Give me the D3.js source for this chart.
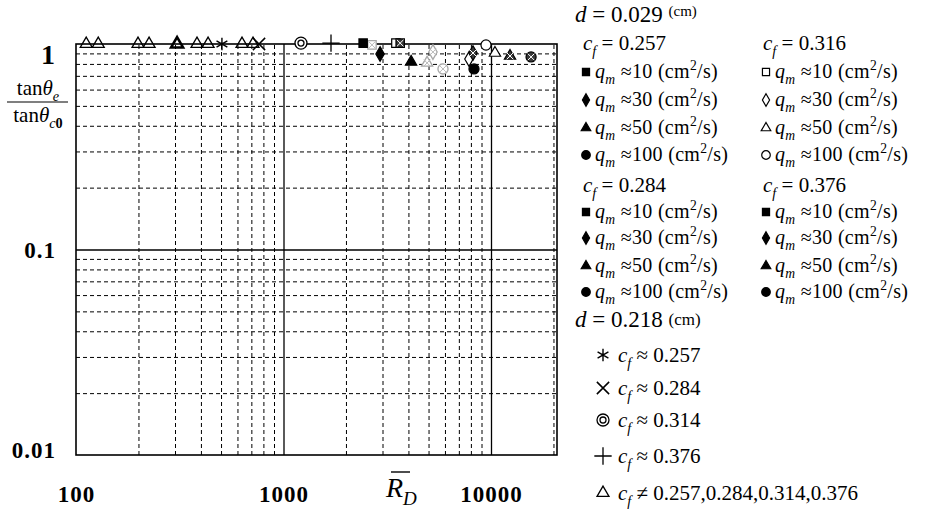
<!DOCTYPE html>
<html>
<head>
<meta charset="utf-8">
<script src="https://cdn.jsdelivr.net/npm/d3@7"></script>
<style>
  body { margin: 0; background: #fff; }
  text { font-family: "Liberation Serif", "DejaVu Serif", serif; fill: #000; }
</style>
</head>
<body>
<svg id="svg" width="933" height="510"></svg>
<script>
// axis ticks
const xLabels = [100, 1000, 10000];
const yLabels = [0.01, 0.1, 1];
const xMajor = [1000, 10000];
const yMajor = [0.1];
const xMinor = [200, 300, 400, 500, 600, 700, 800, 900, 2000, 3000, 4000, 5000, 6000, 7000, 8000, 9000, 20000];
const yMinor = [0.02, 0.03, 0.04, 0.05, 0.06, 0.07, 0.08, 0.09, 0.2, 0.3, 0.4, 0.5, 0.6, 0.7, 0.8, 0.9];

// d = 0.218 cm
const triRd = [112, 128, 199, 225, 307, 383, 433, 631, 713];
const triRatio = [1.0, 1.0, 1.0, 1.0, 1.0, 1.0, 1.0, 1.0, 1.0];
const astRd = [505];
const astRatio = [1.0];
const timesRd = [762];
const timesRatio = [1.0];
const dblRd = [1214];
const dblRatio = [1.01];
const plusRd = [1694];
const plusRatio = [1.01];

// d = 0.029 cm, order q = 10, 30, 50, 100
const qShapes = ["sq", "di", "tr", "ci"];
const cf257Rd = [2420, 2920, 4120, 8280];
const cf257Ratio = [1.01, 0.894, 0.818, 0.756];
const cf284Rd = [2670, 5250, 4920, 5870];
const cf284Ratio = [0.99, 0.914, 0.809, 0.756];
const cf316Rd = [3480, 7830, 10450, 9460];
const cf316Ratio = [1.01, 0.846, 0.904, 0.989];
const cf376Rd = [3650, 8190, 12350, 15600];
const cf376Ratio = [1.01, 0.904, 0.874, 0.865];

const svg = d3.select("#svg");
const x = d3.scaleLog().domain([100, 20800]).range([76, 557]);
const y = d3.scaleLog().domain([0.01, 1]).range([455, 44]);
const plotH = y(0.01) - y(1);
const plotW = x(20800) - x(100);

const grid = svg.append("g");
// dashed minor grid
grid.append("g")
  .attr("transform", `translate(0,${y(0.01)})`)
  .call(d3.axisBottom(x).tickValues(xMinor).tickSize(-plotH).tickFormat(""))
  .call(g => g.select(".domain").remove())
  .call(g => g.selectAll("line").attr("stroke", "#000").attr("stroke-dasharray", "4,3"));
grid.append("g")
  .attr("transform", `translate(${x(100)},0)`)
  .call(d3.axisLeft(y).tickValues(yMinor).tickSize(-plotW).tickFormat(""))
  .call(g => g.select(".domain").remove())
  .call(g => g.selectAll("line").attr("stroke", "#000").attr("stroke-dasharray", "4,3"));
// solid decade lines
grid.append("g")
  .attr("transform", `translate(0,${y(0.01)})`)
  .call(d3.axisBottom(x).tickValues(xMajor).tickSize(-plotH).tickFormat(""))
  .call(g => g.select(".domain").remove())
  .call(g => g.selectAll("line").attr("stroke", "#000").attr("stroke-width", 1.3));
grid.append("g")
  .attr("transform", `translate(${x(100)},0)`)
  .call(d3.axisLeft(y).tickValues(yMajor).tickSize(-plotW).tickFormat(""))
  .call(g => g.select(".domain").remove())
  .call(g => g.selectAll("line").attr("stroke", "#000").attr("stroke-width", 1.3));
grid.append("rect")
  .attr("x", x(100)).attr("y", y(1))
  .attr("width", plotW).attr("height", plotH)
  .attr("fill", "none").attr("stroke", "#000").attr("stroke-width", 1.6);

// tick labels
svg.append("g")
  .attr("transform", `translate(0,502)`)
  .call(d3.axisBottom(x).tickValues(xLabels).tickSize(0).tickFormat(d3.format("d")))
  .call(g => g.select(".domain").remove())
  .call(g => g.selectAll("text").attr("y", 0).attr("dy", 0)
    .attr("font-size", 23).attr("font-weight", "bold").attr("letter-spacing", 1)
    .attr("font-family", "Liberation Serif"));
const yLab = svg.append("g").attr("transform", "translate(56,0)")
  .call(d3.axisLeft(y).tickValues(yLabels).tickSize(0).tickFormat(d => d === 1 ? "1" : d3.format(".2~f")(d)))
  .call(g => g.select(".domain").remove())
  .call(g => g.selectAll("text").attr("x", 0).attr("dy", "0.36em")
    .attr("font-size", 23).attr("font-weight", "bold").attr("letter-spacing", 1)
    .attr("font-family", "Liberation Serif"));
yLab.selectAll(".tick").filter(d => d === 1).select("text").attr("font-size", 28).attr("dy", "0.68em");
yLab.selectAll(".tick").filter(d => d === 0.01).select("text").attr("dy", "0.1em");

// rich text helper
function richText(g, px, py, parts, size, anchor) {
  const t = g.append("text").attr("x", px).attr("y", py).attr("font-size", size);
  if (anchor) t.attr("text-anchor", anchor);
  let shift = 0;
  parts.forEach(p => {
    const target = p.sub ? size * 0.3 : p.sup ? -size * 0.38 : p.raise ? -p.raise : 0;
    const ts = t.append("tspan").text(p.t).attr("dy", target - shift);
    shift = target;
    if (p.sub || p.sup) ts.attr("font-size", size * 0.68);
    if (p.size) ts.attr("font-size", p.size);
    if (p.i) ts.attr("font-style", "italic");
    if (p.b) ts.attr("font-weight", "bold");
  });
  return t;
}

// axis titles
richText(svg, 38, 95, [{ t: "tan" }, { t: "θ", i: true }, { t: "e", i: true, sub: true }], 21, "middle");
svg.append("line").attr("x1", 7).attr("x2", 68).attr("y1", 102).attr("y2", 102).attr("stroke", "#000").attr("stroke-width", 1.2);
richText(svg, 38, 122, [{ t: "tan" }, { t: "θ", i: true }, { t: "c", i: true, sub: true }, { t: "0", sub: true, b: true }], 21, "middle");
richText(svg, 386, 497, [{ t: "R", i: true }, { t: "D", i: true, sub: true }], 28);
svg.append("line").attr("x1", 391).attr("x2", 410).attr("y1", 472).attr("y2", 472).attr("stroke", "#000").attr("stroke-width", 1.4);

// markers
function marker(g, kind, cx, cy, style, scale) {
  const k = scale || 1;
  const s = style || "fill";
  const ink = s === "gray" ? "#a8a8a8" : "#000";
  const fill = s === "fill" ? "#000" : s === "dark" ? "#3a3a3a" : "#fff";
  const sw = s === "gray" ? 1.3 : 1.2;
  const node = g.append("g").attr("transform", `translate(${cx},${cy})`);
  const sym = (type, size) => d3.symbol().type(type).size(size * k * k)();
  if (kind === "sq") node.append("path").attr("d", sym(d3.symbolSquare, 70)).attr("fill", fill).attr("stroke", ink).attr("stroke-width", sw);
  if (kind === "di") node.append("path").attr("d", sym(d3.symbolDiamond, 62)).attr("fill", fill).attr("stroke", ink).attr("stroke-width", sw);
  if (kind === "tr") node.append("path").attr("d", sym(d3.symbolTriangle, 55)).attr("fill", fill).attr("stroke", ink).attr("stroke-width", sw);
  if (kind === "trO") node.append("path").attr("d", sym(d3.symbolTriangle, 62)).attr("fill", "none").attr("stroke", ink).attr("stroke-width", style === "bold" ? 2.6 : 1.3);
  if (kind === "ci") node.append("path").attr("d", sym(d3.symbolCircle, 80)).attr("fill", fill).attr("stroke", ink).attr("stroke-width", sw);
  if (kind === "ast") node.append("path").attr("d", sym(d3.symbolAsterisk, 110)).attr("fill", "none").attr("stroke", ink).attr("stroke-width", 1.4);
  if (kind === "times") node.append("path").attr("d", sym(d3.symbolTimes, 100)).attr("fill", "none").attr("stroke", ink).attr("stroke-width", 1.5);
  if (kind === "plus") node.append("path").attr("d", sym(d3.symbolPlus, 100)).attr("fill", "none").attr("stroke", ink).attr("stroke-width", 1.3);
  if (kind === "dbl") {
    node.append("circle").attr("r", 6 * k).attr("fill", "#fff").attr("stroke", ink).attr("stroke-width", 1.3);
    node.append("circle").attr("r", 3 * k).attr("fill", "none").attr("stroke", ink).attr("stroke-width", 1.3);
  }
  if (s === "gray" || s === "dark") {
    node.append("path").attr("d", sym(d3.symbolTimes, 30)).attr("stroke", s === "gray" ? "#bbb" : "#fff").attr("stroke-width", 1);
  }
}

const pts = svg.append("g");
triRd.forEach((v, i) => marker(pts, "trO", x(v), y(triRatio[i]), v === 307 ? "bold" : "open"));
astRd.forEach((v, i) => marker(pts, "ast", x(v), y(astRatio[i])));
timesRd.forEach((v, i) => marker(pts, "times", x(v), y(timesRatio[i])));
dblRd.forEach((v, i) => marker(pts, "dbl", x(v), y(dblRatio[i])));
plusRd.forEach((v, i) => marker(pts, "plus", x(v), y(plusRatio[i])));
cf284Rd.forEach((v, i) => marker(pts, qShapes[i], x(v), y(cf284Ratio[i]), "gray"));
cf316Rd.forEach((v, i) => marker(pts, qShapes[i], x(v), y(cf316Ratio[i]), "open"));
cf376Rd.forEach((v, i) => marker(pts, qShapes[i], x(v), y(cf376Ratio[i]), "dark"));
cf257Rd.forEach((v, i) => marker(pts, qShapes[i], x(v), y(cf257Ratio[i]), "fill"));

// legend
const legend = svg.append("g");
const qValues = ["10", "30", "50", "100"];
const qParts = q => [{ t: "q", i: true }, { t: "m", i: true, sub: true }, { t: " ≈" + q + (q === "100" ? "  " : " ") + "(cm" }, { t: "2", sup: true }, { t: "/s)" }];
const cfParts = (v, sign) => [{ t: "c", i: true }, { t: "f", i: true, sub: true }, { t: " " + sign + " " + v }];

richText(legend, 575, 22, [{ t: "d", i: true }, { t: " = 0.029 " }, { t: "(cm)", size: 15, raise: 6 }], 23);
const blocks = [
  { cf: "0.257", x0: 583, head: 50, rows: [78, 106, 134, 161], style: "fill" },
  { cf: "0.316", x0: 763, head: 50, rows: [78, 106, 134, 161], style: "open" },
  { cf: "0.284", x0: 583, head: 192, rows: [218, 244, 272, 298], style: "fill" },
  { cf: "0.376", x0: 763, head: 192, rows: [218, 244, 272, 298], style: "fill" }
];
blocks.forEach(b => {
  richText(legend, b.x0, b.head, cfParts(b.cf, "="), 21);
  b.rows.forEach((ry, i) => {
    marker(legend, qShapes[i], b.x0 + 3, ry - 6, b.style, 0.85);
    richText(legend, b.x0 + 12, ry, qParts(qValues[i]), 20).attr("letter-spacing", 0.3);
  });
});
richText(legend, 575, 327, [{ t: "d", i: true }, { t: " = 0.218 " }, { t: "(cm)", size: 17, raise: 2 }], 23);
const d218Rows = [
  { kind: "ast", y: 362, text: cfParts("0.257", "≈") },
  { kind: "times", y: 395, text: cfParts("0.284", "≈") },
  { kind: "dbl", y: 427, text: cfParts("0.314", "≈") },
  { kind: "plus", y: 463, text: cfParts("0.376", "≈") },
  { kind: "trO", y: 500, text: cfParts("0.257,0.284,0.314,0.376", "≠") }
];
d218Rows.forEach(r => {
  marker(legend, r.kind, 603, r.y - 7, "open", 1);
  richText(legend, 618, r.y, r.text, 21);
});
</script>
</body>
</html>
